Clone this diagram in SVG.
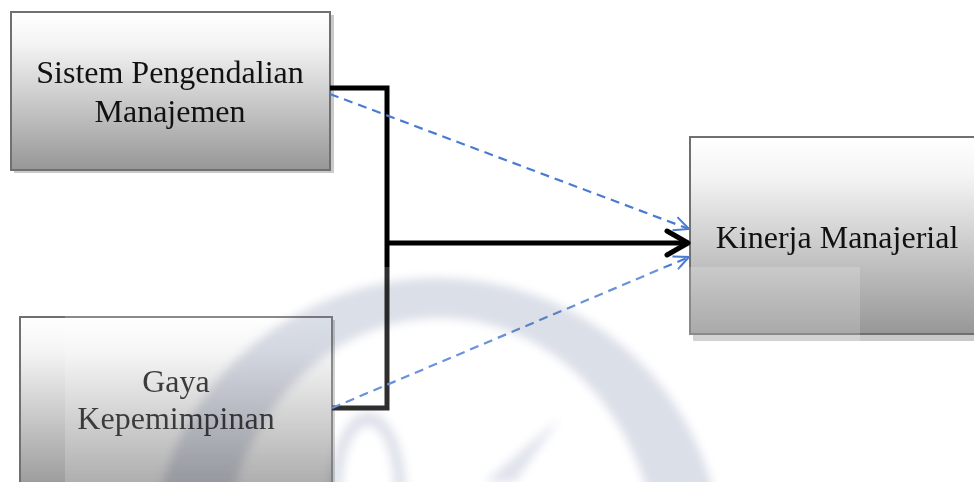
<svg xmlns="http://www.w3.org/2000/svg" width="974" height="482" viewBox="0 0 974 482">
<style>
.box{stroke:#707070;stroke-width:2}
.shadow{fill:#c9c9c9}
.lbl{font-family:"Liberation Serif","Times New Roman",serif;font-size:32px;fill:#111;text-anchor:middle}
.solid{fill:none;stroke:#000;stroke-width:5}
.dash{fill:none;stroke:#4a7bd0;stroke-width:2.2;stroke-dasharray:9 6}
</style>
<defs>
<linearGradient id="g" x1="0" y1="0" x2="0" y2="1">
<stop offset="0" stop-color="#ffffff"/>
<stop offset="0.2" stop-color="#f4f4f4"/>
<stop offset="1" stop-color="#979797"/>
</linearGradient>
<marker id="openArrow" viewBox="0 0 18 18" refX="17" refY="9" markerWidth="18" markerHeight="18" markerUnits="userSpaceOnUse" orient="auto">
<path d="M2,2 L17,9 L2,16" fill="none" stroke="#4a7bd0" stroke-width="2"/>
</marker>
<filter id="blur" x="-20%" y="-20%" width="140%" height="140%">
<feGaussianBlur stdDeviation="5"/>
</filter>
</defs>
<rect width="974" height="482" fill="#ffffff"/>

<g id="node-sistem">
<rect class="shadow" x="14" y="15" width="320" height="158"/>
<rect class="box" x="11" y="12" width="319" height="158" fill="url(#g)"/>
<text class="lbl" x="170" y="83">Sistem Pengendalian</text>
<text class="lbl" x="170" y="122">Manajemen</text>
</g>

<g id="node-gaya">
<rect class="shadow" x="23" y="320" width="312" height="170"/>
<rect class="box" x="20" y="317" width="312" height="175" fill="url(#g)"/>
<text class="lbl" x="176" y="392">Gaya</text>
<text class="lbl" x="176" y="429">Kepemimpinan</text>
</g>

<g id="node-kinerja">
<rect class="shadow" x="693" y="140" width="290" height="201"/>
<rect class="box" x="690" y="137" width="295" height="197" fill="url(#g)"/>
<text class="lbl" x="837" y="248">Kinerja Manajerial</text>
</g>

<g id="connectors">
<path class="solid" d="M330,88 H387 V408 H332" stroke-linejoin="miter"/>
<path class="solid" d="M385,243 H686"/>
<path class="solid" d="M667,231 L688,243 L667,255" stroke-linecap="round" stroke-linejoin="round"/>
<path class="dash" d="M330,94 L689,229" marker-end="url(#openArrow)"/>
<path class="dash" d="M332,408 L689,257" marker-end="url(#openArrow)"/>
</g>

<g id="watermark">
<rect x="65" y="267" width="795" height="215" fill="#ffffff" opacity="0.18"/>
<g style="mix-blend-mode:multiply" filter="url(#blur)" opacity="0.5">
<path fill="#b8bfd2" fill-rule="evenodd" d="M152,560 A285,282 0 0 1 722,560 A285,282 0 0 1 152,560 Z M222,570 A218,252 0 0 0 658,570 A218,252 0 0 0 222,570 Z"/>
<path fill="#bcc3d6" fill-rule="evenodd" d="M330,490 A38,78 0 0 1 406,490 L394,490 A26,64 0 0 0 342,490 Z"/>
<path fill="#c0c6d8" d="M560,418 L515,482 L485,482 Z"/>
</g>
</g>
</svg>
